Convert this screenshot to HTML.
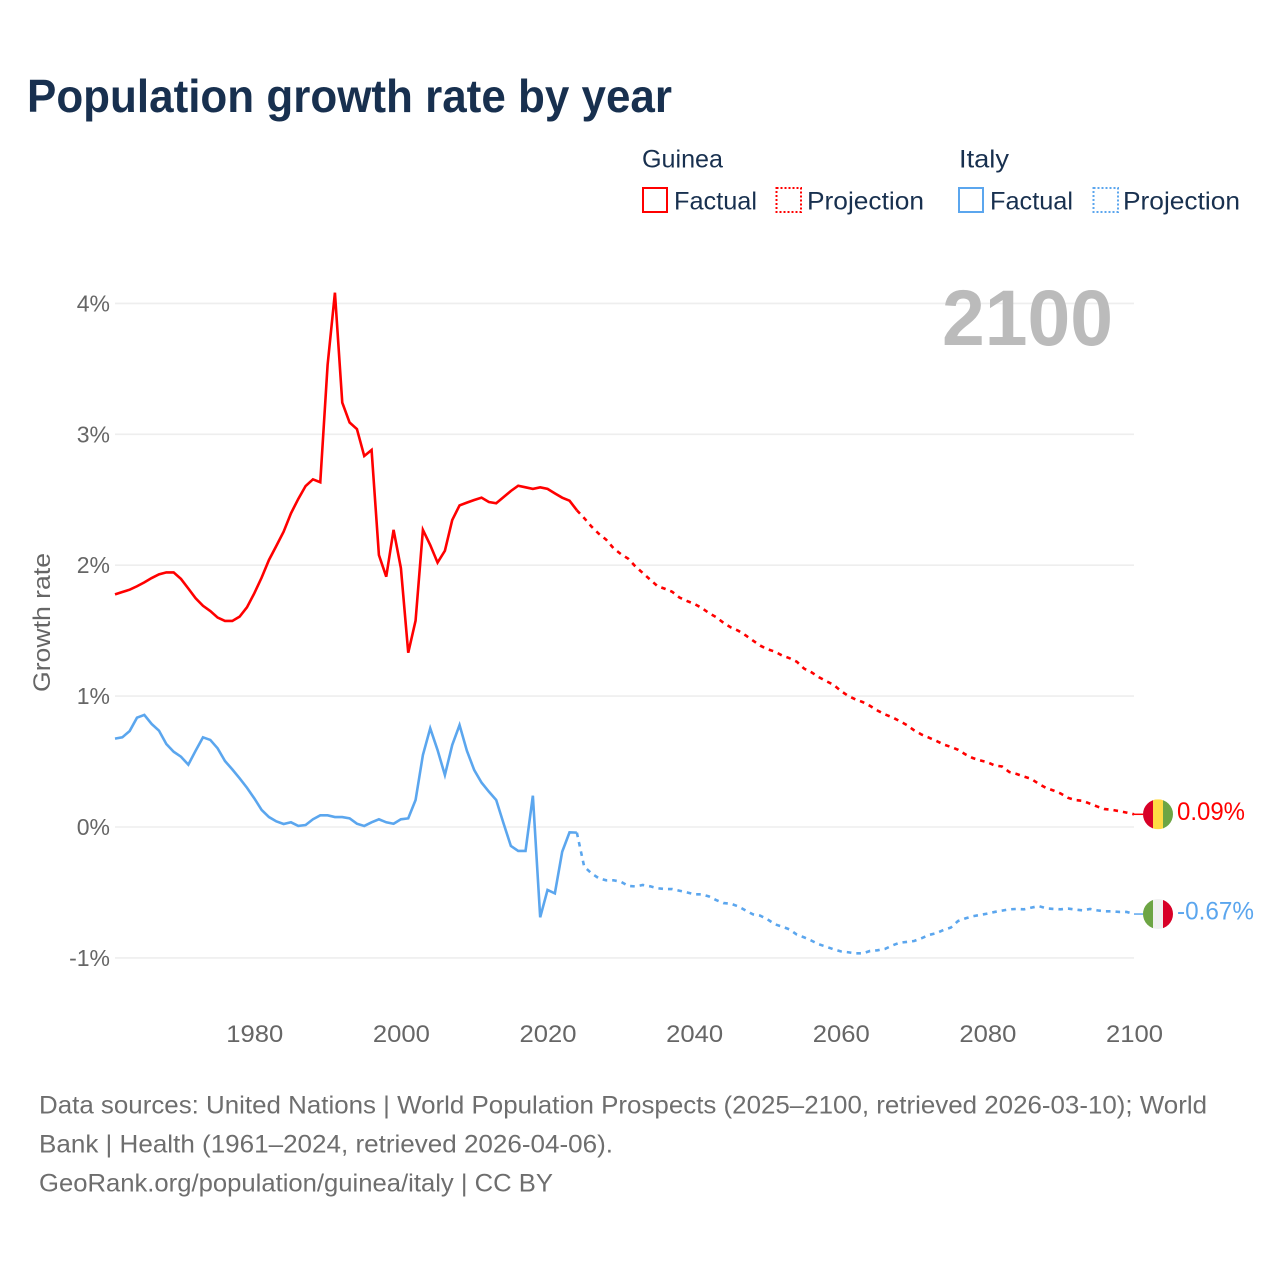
<!DOCTYPE html>
<html lang="en">
<head>
<meta charset="utf-8">
<title>Population growth rate by year</title>
<style>
  html, body { margin: 0; padding: 0; background: #fff; }
  svg { display: block; }
  text { font-family: "Liberation Sans", "DejaVu Sans", sans-serif; }
</style>
</head>
<body>
<svg id="chart" width="1280" height="1280" viewBox="0 0 1280 1280" xmlns="http://www.w3.org/2000/svg">
  <rect width="1280" height="1280" fill="#fff"/>
  <defs>
    <clipPath id="flag-clip"><circle cx="0" cy="0" r="15"/></clipPath>
  </defs>
  <text x="27" y="112" font-size="46" font-weight="700" fill="#18304f" textLength="645" lengthAdjust="spacingAndGlyphs">Population growth rate by year</text>

  <g font-size="25" fill="#18304f">
    <text x="642" y="167.5" textLength="81" lengthAdjust="spacingAndGlyphs">Guinea</text>
    <text x="959" y="167.5" textLength="50" lengthAdjust="spacingAndGlyphs">Italy</text>
    <g>
      <rect x="643" y="188" width="24" height="24" fill="none" stroke="#ff0000" stroke-width="2"/>
      <text x="674" y="209.5" textLength="83" lengthAdjust="spacingAndGlyphs">Factual</text>
    </g>
    <g>
      <rect x="776.5" y="188" width="24.5" height="24" fill="none" stroke="#ff0000" stroke-width="2" stroke-dasharray="2 2"/>
      <text x="807" y="209.5" textLength="117" lengthAdjust="spacingAndGlyphs">Projection</text>
    </g>
    <g>
      <rect x="959" y="188" width="24" height="24" fill="none" stroke="#5ba6ee" stroke-width="2"/>
      <text x="990" y="209.5" textLength="83" lengthAdjust="spacingAndGlyphs">Factual</text>
    </g>
    <g>
      <rect x="1093.5" y="188" width="24.5" height="24" fill="none" stroke="#5ba6ee" stroke-width="2" stroke-dasharray="2 2"/>
      <text x="1123" y="209.5" textLength="117" lengthAdjust="spacingAndGlyphs">Projection</text>
    </g>
  </g>

  <g id="grid"></g>
  <g id="y-ticks" font-size="23" fill="#666"></g>
  <g id="x-ticks" font-size="24.5" fill="#666"></g>
  <text transform="translate(50 622.5) rotate(-90)" text-anchor="middle" font-size="24.5" fill="#666" textLength="139" lengthAdjust="spacingAndGlyphs">Growth rate</text>
  <text x="942" y="345" font-size="79" font-weight="700" fill="#bbbbbb" textLength="171" lengthAdjust="spacingAndGlyphs">2100</text>
  <g id="series"></g>
  <g id="end-markers"></g>

  <g font-size="25" fill="#6e6e6e">
    <text x="39" y="1113.5" textLength="1168" lengthAdjust="spacingAndGlyphs">Data sources: United Nations | World Population Prospects (2025–2100, retrieved 2026-03-10); World</text>
    <text x="39" y="1152.5" textLength="574" lengthAdjust="spacingAndGlyphs">Bank | Health (1961–2024, retrieved 2026-04-06).</text>
    <text x="39" y="1191.5" textLength="514" lengthAdjust="spacingAndGlyphs">GeoRank.org/population/guinea/italy | CC BY</text>
  </g>
</svg>

<script>
const yTickValues = [-1, 0, 1, 2, 3, 4];
const yTickLabels = ['-1%', '0%', '1%', '2%', '3%', '4%'];
const xTickValues = [1980, 2000, 2020, 2040, 2060, 2080, 2100];
const xTickLabels = ['1980', '2000', '2020', '2040', '2060', '2080', '2100'];
const factualStartYear = 1961;
const projectionStartYear = 2024;

const guineaFactual = [
  1.777, 1.795, 1.813, 1.839, 1.869, 1.902, 1.93, 1.945, 1.945, 1.895,
  1.822, 1.747, 1.69, 1.65, 1.60, 1.574, 1.574, 1.607, 1.678, 1.785,
  1.905, 2.04, 2.147, 2.256, 2.396, 2.506, 2.605, 2.656, 2.634, 3.53,
  4.082, 3.242, 3.09, 3.04, 2.834, 2.88, 2.078, 1.912, 2.27, 1.977,
  1.331, 1.576, 2.27, 2.154, 2.02, 2.11, 2.345, 2.457, 2.478, 2.498,
  2.516, 2.483, 2.473, 2.52, 2.567, 2.607, 2.595, 2.583, 2.595, 2.583,
  2.549, 2.516, 2.493, 2.42
];
const guineaProjection = [
  2.42, 2.36, 2.295, 2.24, 2.195, 2.13, 2.085, 2.05, 1.99, 1.94,
  1.89, 1.84, 1.82, 1.797, 1.753, 1.727, 1.705, 1.675, 1.635, 1.603,
  1.56, 1.525, 1.50, 1.465, 1.425, 1.386, 1.358, 1.34, 1.31, 1.29,
  1.263, 1.21, 1.182, 1.145, 1.115, 1.087, 1.04, 1.002, 0.975, 0.954,
  0.925, 0.89, 0.861, 0.839, 0.81, 0.779, 0.739, 0.707, 0.683, 0.659,
  0.631, 0.612, 0.59, 0.555, 0.527, 0.509, 0.495, 0.47, 0.462, 0.42,
  0.405, 0.385, 0.367, 0.33, 0.298, 0.279, 0.256, 0.223, 0.206, 0.2,
  0.178, 0.156, 0.137, 0.131, 0.121, 0.11, 0.097
];
const italyFactual = [
  0.675, 0.685, 0.733, 0.835, 0.856, 0.787, 0.736, 0.634, 0.575, 0.537,
  0.476, 0.583, 0.685, 0.665, 0.601, 0.504, 0.44, 0.372, 0.30, 0.219,
  0.13, 0.076, 0.043, 0.023, 0.036, 0.008, 0.015, 0.059, 0.089, 0.089,
  0.076, 0.076, 0.066, 0.025, 0.008, 0.036, 0.059, 0.036, 0.025, 0.059,
  0.066, 0.206, 0.55, 0.754, 0.588, 0.397, 0.626, 0.779, 0.583, 0.435,
  0.339, 0.27, 0.206, 0.028, -0.145, -0.183, -0.183, 0.239, -0.69, -0.481,
  -0.507, -0.189, -0.041, -0.043
];
const italyProjection = [
  -0.043, -0.303, -0.354, -0.392, -0.407, -0.407, -0.418, -0.45, -0.454, -0.443,
  -0.453, -0.468, -0.474, -0.474, -0.487, -0.499, -0.514, -0.514, -0.53, -0.558,
  -0.581, -0.586, -0.606, -0.637, -0.667, -0.677, -0.705, -0.743, -0.761, -0.782,
  -0.822, -0.843, -0.868, -0.896, -0.914, -0.934, -0.95, -0.957, -0.965, -0.965,
  -0.947, -0.942, -0.932, -0.906, -0.884, -0.878, -0.871, -0.85, -0.825, -0.812,
  -0.787, -0.769, -0.718, -0.698, -0.682, -0.672, -0.662, -0.649, -0.639, -0.629,
  -0.626, -0.629, -0.616, -0.604, -0.621, -0.626, -0.629, -0.623, -0.631, -0.637,
  -0.626, -0.637, -0.644, -0.644, -0.649, -0.649, -0.665
];
const guineaEndLabel = '0.09%';
const italyEndLabel = '-0.67%';

const NS = 'http://www.w3.org/2000/svg';
const plotLeft = 115;
const plotRight = 1134;
const xScale = function (year) { return plotLeft + (year - 1961) * (plotRight - plotLeft) / (2100 - 1961); };
const yScale = function (value) { return 827 - value * 130.9; };

function make(tag, attrs, parent) {
  const el = document.createElementNS(NS, tag);
  Object.keys(attrs).forEach(function (k) { el.setAttribute(k, attrs[k]); });
  parent.appendChild(el);
  return el;
}

const gridLayer = document.getElementById('grid');
const yTickLayer = document.getElementById('y-ticks');
const xTickLayer = document.getElementById('x-ticks');
const seriesLayer = document.getElementById('series');
const markerLayer = document.getElementById('end-markers');

yTickValues.forEach(function (v, i) {
  const line = make('line', { x1: plotLeft, x2: plotRight, y1: yScale(v), y2: yScale(v), stroke: '#eeeeee', 'stroke-width': 1.6 }, gridLayer);
  
  
  const label = make('text', { x: 110, y: yScale(v) + 8, 'text-anchor': 'end' }, yTickLayer);
  
  
  label.textContent = yTickLabels[i];
});

xTickValues.forEach(function (v, i) {
  const label = make('text', { x: xScale(v) + 0.5, y: 1042, 'text-anchor': 'middle', textLength: 57, lengthAdjust: 'spacingAndGlyphs' }, xTickLayer);
  
  
  label.textContent = xTickLabels[i];
});

function pathFrom(values, startYear) {
  return values.map(function (v, i) {
    return (i ? 'L' : 'M') + xScale(startYear + i).toFixed(2) + ' ' + yScale(v).toFixed(2);
  }).join(' ');
}

const guineaColor = '#ff0000';
const italyColor = '#5ba6ee';
const lineWidth = 2.6;
const dashPattern = '4.6 5';

const guineaFactualLine = make('path', { d: pathFrom(guineaFactual, factualStartYear), fill: 'none', stroke: guineaColor, 'stroke-width': lineWidth, 'stroke-linejoin': 'miter' }, seriesLayer);



const guineaProjectionLine = make('path', { d: pathFrom(guineaProjection, projectionStartYear), fill: 'none', stroke: guineaColor, 'stroke-width': lineWidth, 'stroke-dasharray': dashPattern }, seriesLayer);



const italyFactualLine = make('path', { d: pathFrom(italyFactual, factualStartYear), fill: 'none', stroke: italyColor, 'stroke-width': lineWidth, 'stroke-linejoin': 'miter' }, seriesLayer);



const italyProjectionLine = make('path', { d: pathFrom(italyProjection, projectionStartYear), fill: 'none', stroke: italyColor, 'stroke-width': lineWidth, 'stroke-dasharray': dashPattern }, seriesLayer);



function addMarker(lastValue, stripes, color, text, labelWidth, prefix) {
  const y = yScale(lastValue);
  const connector = make('line', { x1: plotRight, x2: 1143, y1: y, y2: y, stroke: color, 'stroke-width': 1.5 }, markerLayer);
  
  

  const flag = make('g', { transform: 'translate(1158 ' + y + ')', 'clip-path': 'url(#flag-clip)' }, markerLayer);
  
  
  stripes.forEach(function (fill, i) {
    const stripe = make('rect', { x: -15 + i * 10, y: -15, width: 10.2, height: 30, fill: fill }, flag);
    
    
  });

  const label = make('text', { x: 1177, y: y + 5.5, fill: color, 'font-size': 25, textLength: labelWidth, lengthAdjust: 'spacingAndGlyphs' }, markerLayer);
  
  
  label.textContent = text;
}

addMarker(guineaProjection[guineaProjection.length - 1], ['#d80027', '#ffda44', '#6da544'], guineaColor, guineaEndLabel, 68, 'guinea');
addMarker(italyProjection[italyProjection.length - 1], ['#6da544', '#f0f0f0', '#d80027'], italyColor, italyEndLabel, 77, 'italy');
</script>
</body>
</html>
